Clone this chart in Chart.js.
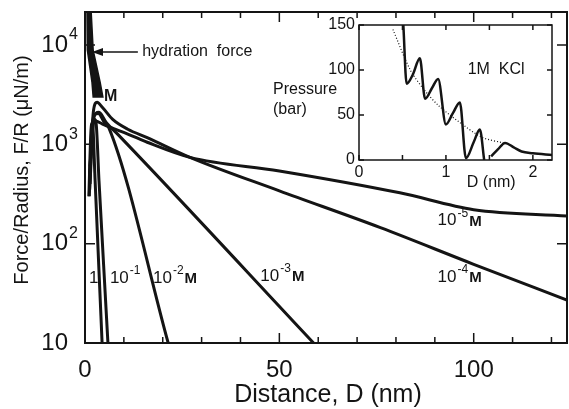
<!DOCTYPE html>
<html lang="en">
<head>
<meta charset="UTF-8">
<title>Force / Radius vs Distance</title>
<script src="https://cdn.jsdelivr.net/npm/chart.js"></script>
<style>
  body { margin: 0; background: #fff; }
  .wrap { position: relative; width: 569px; height: 409px; }
  canvas { position: absolute; left: 0; top: 0; }
</style>
</head>
<body>
<div class="wrap">
  <canvas id="main" width="569" height="409"></canvas>
  <canvas id="inset" width="569" height="409"></canvas>
</div>
<script>
// ---- main plot data (D in nm, F/R in uN/m) ----
var hydrD = [0.5, 0.6, 1.8, 2.1, 4.6, 3.9, 2.1, 1.5];
var hydrF = [25000, 8900, 4200, 3000, 3000, 4200, 8900, 25000];

var d1M = [1.0, 1.5, 1.9, 2.6, 3.5, 4.4];
var f1M = [300, 1300, 1650, 430, 65, 10];

var dM1 = [1.1, 1.7, 2.3, 2.8, 3.6, 4.8, 5.9];
var fM1 = [300, 1300, 1800, 1700, 430, 60, 10];

var dM2 = [1.2, 1.8, 2.6, 3.4, 5.0, 6.2, 21.4];
var fM2 = [350, 1400, 2000, 2050, 1650, 1450, 10];

var dM3 = [1.3, 2.0, 2.8, 3.6, 5.5, 8.2, 58.8];
var fM3 = [400, 1500, 2050, 2100, 1650, 1290, 10];

var dM4 = [1.3, 2.2, 3.1, 4.5, 7.2, 11, 16, 27, 50, 76, 100, 124];
var fM4 = [600, 2200, 2650, 2350, 1770, 1420, 1170, 740, 340, 145, 62, 27];

var dM5 = [1.2, 2.0, 2.7, 4.5, 7.2, 11, 16, 27, 50, 81, 100, 124];
var fM5 = [500, 1500, 1720, 1600, 1450, 1270, 1050, 740, 540, 325, 220, 190];

var xTicks = [0, 10, 20, 30, 40, 50, 60, 70, 80, 90, 100, 110, 120];
var xLabels = [0, 50, 100];
var yTicks = [10, 100, 1000, 10000];
var yExp = ['', '2', '3', '4'];

// ---- inset data (D in nm, pressure in bar) ----
var presD = [0.51, 0.548, 0.62, 0.70, 0.76, 0.84, 0.91, 1.0, 1.08, 1.16, 1.23, 1.32, 1.39, 1.44, 1.48, 1.52, 1.6, 1.68, 1.78, 1.87, 2.0, 2.22];
var presP = [150, 84.6, 95, 113, 68, 80, 90, 39.5, 52, 64, 2, 20, 34, 0, null, 4, 12, 19, 14, 9.4, 7.5, 5.6];
var dotD = [0.39, 0.59, 0.75, 0.92, 1.19, 1.42, 1.66];
var dotP = [145, 100, 78, 60, 39.5, 25, 19];

var insetXTicks = [0, 0.5, 1, 1.5, 2];
var insetXLabels = [0, 1, 2];
var insetYTicks = [0, 50, 100, 150];

var FONT = '"Liberation Sans", Arial, sans-serif';
var INK = '#141414';

function pts(xs, ys) {
    return xs.map(function (x, i) { return { x: x, y: ys[i] }; });
}

function curve(xs, ys) {
    return {
        data: pts(xs, ys),
        borderColor: INK,
        borderWidth: 3,
        pointRadius: 0,
        cubicInterpolationMode: 'monotone',
        fill: false
    };
}

// draws "10" + superscript + tail, left edge at x
function supLabel(ctx, x, y, base, sup, tail, size) {
    ctx.textAlign = 'left';
    ctx.textBaseline = 'middle';
    ctx.font = size + 'px ' + FONT;
    ctx.fillText(base, x, y);
    x += ctx.measureText(base).width + 1;
    if (sup) {
        ctx.font = Math.round(size * 0.7) + 'px ' + FONT;
        ctx.fillText(sup, x, y - size * 0.42);
        x += ctx.measureText(sup).width + 1;
    }
    if (tail) {
        ctx.font = 'bold ' + Math.round(size * 0.88) + 'px ' + FONT;
        ctx.fillText(tail, x, y + 1);
    }
}

var curveLabels = [
    { base: '1', sup: '', tail: '', d: 1.0, f: 45 },
    { base: '10', sup: '-1', tail: '', d: 6.4, f: 45 },
    { base: '10', sup: '-2', tail: 'M', d: 17.5, f: 45 },
    { base: '10', sup: '-3', tail: 'M', d: 45.1, f: 47 },
    { base: '10', sup: '-4', tail: 'M', d: 90.7, f: 46 },
    { base: '10', sup: '-5', tail: 'M', d: 90.7, f: 170 }
];

var mainDeco = {
    id: 'mainDeco',
    afterDraw: function (chart) {
        var ctx = chart.ctx, a = chart.chartArea;
        var x = chart.scales.x, y = chart.scales.y;
        ctx.save();
        ctx.strokeStyle = INK;
        ctx.fillStyle = INK;
        ctx.lineWidth = 2;
        ctx.strokeRect(a.left, a.top, a.right - a.left, a.bottom - a.top);

        // inward ticks
        ctx.lineWidth = 1.5;
        xTicks.forEach(function (v) {
            var px = x.getPixelForValue(v);
            var len = xLabels.indexOf(v) >= 0 ? 10 : 6;
            ctx.beginPath();
            ctx.moveTo(px, a.bottom); ctx.lineTo(px, a.bottom - len);
            ctx.moveTo(px, a.top); ctx.lineTo(px, a.top + len);
            ctx.stroke();
        });
        yTicks.forEach(function (v) {
            var py = y.getPixelForValue(v);
            ctx.beginPath();
            ctx.moveTo(a.left, py); ctx.lineTo(a.left + 10, py);
            ctx.moveTo(a.right, py); ctx.lineTo(a.right - 10, py);
            ctx.stroke();
        });

        // tick labels
        ctx.font = '24px ' + FONT;
        ctx.textAlign = 'center';
        ctx.textBaseline = 'middle';
        xLabels.forEach(function (v) {
            ctx.fillText(String(v), x.getPixelForValue(v), a.bottom + 27);
        });
        yTicks.forEach(function (v, i) {
            var py = y.getPixelForValue(v);
            ctx.font = '24px ' + FONT;
            ctx.textAlign = 'right';
            ctx.fillText('10', a.left - 17, py);
            if (yExp[i]) {
                ctx.font = '16px ' + FONT;
                ctx.textAlign = 'left';
                ctx.fillText(yExp[i], a.left - 16, py - 10);
            }
        });

        // axis titles
        ctx.font = '25px ' + FONT;
        ctx.textAlign = 'center';
        ctx.fillText('Distance, D (nm)', (a.left + a.right) / 2 + 2, a.bottom + 52);
        ctx.save();
        ctx.translate(22, a.top + 158);
        ctx.rotate(-Math.PI / 2);
        ctx.font = '20px ' + FONT;
        ctx.fillText('Force/Radius, F/R (\u03bcN/m)', 0, 0);
        ctx.restore();

        // hydration force arrow
        var hy = y.getPixelForValue(8500);
        var hx0 = x.getPixelForValue(13.6), hx1 = x.getPixelForValue(1.8);
        ctx.lineWidth = 1.5;
        ctx.beginPath();
        ctx.moveTo(hx0, hy); ctx.lineTo(hx1 + 8, hy);
        ctx.stroke();
        ctx.beginPath();
        ctx.moveTo(hx1, hy); ctx.lineTo(hx1 + 11, hy - 4); ctx.lineTo(hx1 + 11, hy + 4);
        ctx.closePath(); ctx.fill();
        ctx.font = '16px ' + FONT;
        ctx.textAlign = 'left';
        ctx.fillText('hydration  force', x.getPixelForValue(14.7), hy);

        ctx.font = 'bold 16px ' + FONT;
        ctx.fillText('M', x.getPixelForValue(4.9), y.getPixelForValue(3000));

        curveLabels.forEach(function (l) {
            supLabel(ctx, x.getPixelForValue(l.d), y.getPixelForValue(l.f), l.base, l.sup, l.tail, 17);
        });
        ctx.restore();
    }
};

var insetDeco = {
    id: 'insetDeco',
    afterDraw: function (chart) {
        var ctx = chart.ctx, a = chart.chartArea;
        var x = chart.scales.x, y = chart.scales.y;
        ctx.save();
        ctx.strokeStyle = INK;
        ctx.fillStyle = INK;
        ctx.lineWidth = 1.5;
        ctx.strokeRect(a.left, a.top, a.right - a.left, a.bottom - a.top);
        insetXTicks.forEach(function (v) {
            var px = x.getPixelForValue(v);
            ctx.beginPath();
            ctx.moveTo(px, a.bottom); ctx.lineTo(px, a.bottom - 5);
            ctx.moveTo(px, a.top); ctx.lineTo(px, a.top + 5);
            ctx.stroke();
        });
        insetYTicks.forEach(function (v) {
            var py = y.getPixelForValue(v);
            ctx.beginPath();
            ctx.moveTo(a.left, py); ctx.lineTo(a.left + 5, py);
            ctx.moveTo(a.right, py); ctx.lineTo(a.right - 5, py);
            ctx.stroke();
        });
        ctx.font = '16px ' + FONT;
        ctx.textBaseline = 'middle';
        ctx.textAlign = 'right';
        insetYTicks.forEach(function (v) {
            ctx.fillText(String(v), a.left - 4, y.getPixelForValue(v));
        });
        ctx.textAlign = 'center';
        insetXLabels.forEach(function (v) {
            ctx.fillText(String(v), x.getPixelForValue(v), a.bottom + 13);
        });
        ctx.textAlign = 'left';
        ctx.fillText('D (nm)', x.getPixelForValue(1.24), a.bottom + 23);
        ctx.fillText('Pressure', a.left - 86, y.getPixelForValue(78));
        ctx.fillText('(bar)', a.left - 86, y.getPixelForValue(56));
        ctx.fillText('1M  KCl', x.getPixelForValue(1.25), y.getPixelForValue(100));
        ctx.restore();
    }
};

var hydration = {
    data: pts(hydrD, hydrF),
    borderColor: INK,
    backgroundColor: INK,
    borderWidth: 1.5,
    pointRadius: 0,
    tension: 0,
    fill: 'shape'
};

new Chart(document.getElementById('main'), {
    type: 'line',
    data: {
        datasets: [
            hydration,
            curve(d1M, f1M),
            curve(dM1, fM1),
            curve(dM2, fM2),
            curve(dM3, fM3),
            curve(dM4, fM4),
            curve(dM5, fM5)
        ]
    },
    options: {
        responsive: false,
        animation: false,
        layout: { padding: { left: 85, right: 2, top: 12, bottom: 66 } },
        scales: {
            x: { type: 'linear', min: 0, max: 124, display: false },
            y: { type: 'logarithmic', min: 10, max: 21500, display: false }
        },
        plugins: { legend: { display: false }, tooltip: { enabled: false } }
    },
    plugins: [mainDeco]
});

new Chart(document.getElementById('inset'), {
    type: 'line',
    data: {
        datasets: [
            {
                data: pts(dotD, dotP),
                borderColor: INK,
                borderWidth: 1.2,
                borderDash: [1, 2],
                pointRadius: 0,
                tension: 0.3,
                fill: false
            },
            {
                data: pts(presD, presP),
                borderColor: INK,
                borderWidth: 2.5,
                pointRadius: 0,
                cubicInterpolationMode: 'monotone',
                spanGaps: false,
                fill: false
            }
        ]
    },
    options: {
        responsive: false,
        animation: false,
        layout: { padding: { left: 359, right: 17, top: 25, bottom: 249 } },
        scales: {
            x: { type: 'linear', min: 0, max: 2.22, display: false },
            y: { type: 'linear', min: 0, max: 150, display: false }
        },
        plugins: { legend: { display: false }, tooltip: { enabled: false } }
    },
    plugins: [insetDeco]
});
</script>
</body>
</html>
